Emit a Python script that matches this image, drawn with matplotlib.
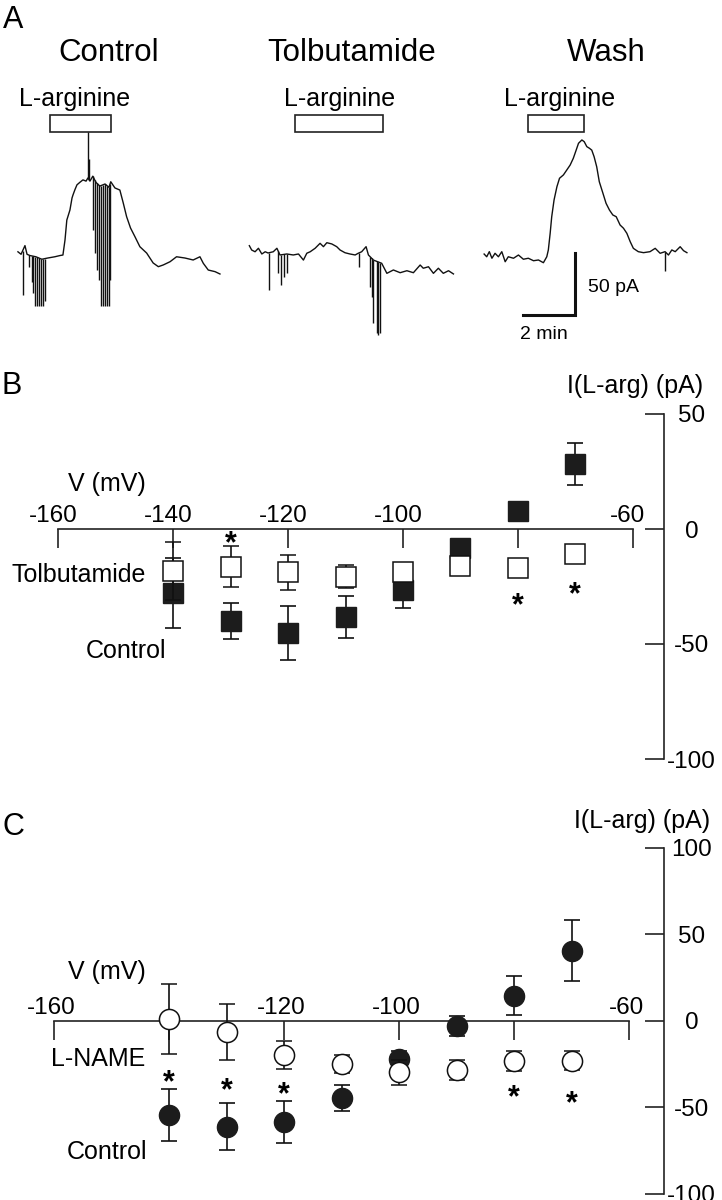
"""Figure: L-arginine current traces (A) and I-V relations with tolbutamide (B) and L-NAME (C)."""

import matplotlib.pyplot as plt
import matplotlib.transforms as mtransforms
import numpy as np
from matplotlib.patches import Rectangle

plt.rcParams["font.family"] = ["Liberation Sans", "DejaVu Sans"]

# ---------------- data ----------------
# Panel A traces: time (min from trace start), current (pA from pre-drug baseline)
CTRL_T = [0.00, 0.12, 0.27, 0.35, 0.46, 0.69, 0.92, 1.15, 1.42, 1.62,
          1.73, 1.81, 1.88, 2.00, 2.08, 2.12, 2.19, 2.27, 2.38, 2.50,
          2.62, 2.69, 2.77, 2.88, 3.00, 3.15, 3.35, 3.50, 3.57, 3.73,
          3.92, 4.05, 4.18, 4.33, 4.50, 4.69, 4.95, 5.20, 5.40, 5.59,
          5.85, 6.10, 6.42, 6.74, 7.00, 7.13, 7.32, 7.58, 7.77]
CTRL_I = [5, 3, 10, 3, 2, 1, -1, 0, 1, 2,
          2.4, 14.5, 30.6, 38.7, 48.4, 51, 55, 59, 61, 63,
          62, 64.5, 62, 66, 61, 58, 59.7, 57, 61.5, 56.5,
          54.8, 44.4, 33.3, 24.2, 17.2, 9.1, 4, -4, -7, -5.6,
          -3, 1, 0, -1.6, 1, -4.3, -9.7, -11, -12.9]
CTRL_SPIKE_T = [0.18, 0.42, 0.53, 0.59, 0.65, 0.73, 0.81, 0.88, 0.96, 1.04,
                2.69, 2.73, 2.88, 2.96, 3.04, 3.12, 3.19, 3.27, 3.35, 3.42, 3.50, 3.54]
CTRL_SPIKE_I = [-30, -7, -19, -28, -39, -39, -39, -39, -39, -35,
                101.6, 80, 22.6, 4, -9.7, -17.7, -38.7, -38.7, -38.7, -38.7, -38.7, -17.7]

TOLB_T = [0.01, 0.10, 0.23, 0.36, 0.49, 0.62, 0.73, 0.93, 1.07, 1.19,
          1.45, 1.70, 1.90, 2.09, 2.22, 2.35, 2.54, 2.73, 2.86, 2.99,
          3.18, 3.37, 3.50, 3.69, 3.88, 4.08, 4.20, 4.33, 4.50, 4.59,
          4.78, 5.10, 5.30, 5.55, 5.81, 6.07, 6.32, 6.58, 6.70, 6.90,
          7.09, 7.28, 7.47, 7.67, 7.86]
TOLB_I = [5.1, 1.6, 0.2, 3.0, -1.6, 0.2, -0.8, 0.2, 3.0, -2.4,
          -1.6, -2.4, -1.6, -6.5, -1.0, 0.2, 3.0, 7.0, 4.3, 7.5,
          6.5, 4.3, 1.6, -0.6, -1.6, -2.4, -1.0, 0.2, 4.3, -2.4,
          -6.5, -9.1, -17.2, -14.5, -16.7, -15.1, -16.7, -10.5, -13.1, -11.9,
          -17.2, -13.1, -17.2, -15.1, -17.7]
TOLB_SPIKE_T = [0.78, 1.12, 1.23, 1.35, 1.46, 4.24, 4.65, 4.72, 4.78, 4.91, 4.97, 5.04]
TOLB_SPIKE_I = [-30.6, -17, -26.6, -20, -17, -11.9, -28, -36, -57.5, -65.6, -67, -65.6]

WASH_T = [0.00, 0.10, 0.20, 0.30, 0.42, 0.55, 0.68, 0.81, 0.93, 1.13,
          1.32, 1.51, 1.70, 1.90, 2.09, 2.28, 2.41, 2.47, 2.54, 2.60,
          2.69, 2.80, 2.90, 3.05, 3.18, 3.31, 3.43, 3.54, 3.63, 3.76,
          3.85, 3.95, 4.05, 4.14, 4.23, 4.33, 4.43, 4.57, 4.69, 4.82,
          4.95, 5.08, 5.23, 5.36, 5.49, 5.62, 5.74, 5.93, 6.13, 6.38,
          6.58, 6.77, 6.96, 7.09, 7.22, 7.35, 7.54, 7.67, 7.80]
WASH_I = [3.2, 1.0, 5.1, -0.2, 3.8, 1.0, 5.1, -3.0, 1.0, -0.2,
          2.4, -1.0, -0.2, -2.2, -1.6, -3.8, 1.0, 6.5, 19.9, 33.3,
          46.8, 57.5, 64.3, 67.0, 71.0, 75.0, 80.4, 87.0, 92.5, 95.2,
          93.8, 89.8, 88.5, 87.0, 81.7, 73.6, 61.5, 52.2, 44.1, 38.7,
          34.7, 33.3, 26.6, 24.0, 19.9, 13.1, 7.8, 5.1, 4.3, 5.1,
          7.8, 3.8, 5.1, 2.4, 6.5, 5.1, 9.1, 5.9, 4.3]
WASH_SPIKE_T = [6.96]
WASH_SPIKE_I = [-10.2]

TRACE_NAMES = ["Control", "Tolbutamide", "Wash"]
ARG_ON = [1.23, 1.77, 1.67]    # L-arginine application (min)
ARG_OFF = [3.58, 5.17, 3.86]

# Panels B and C: I-V relations
V = [-140, -130, -120, -110, -100, -90, -80, -70]
B_CTRL_MEAN = [-27.8, -40.0, -45.2, -38.2, -26.5, -8.2, 7.7, 28.3]
B_CTRL_SEM = [15.2, 8.0, 11.8, 9.0, 7.7, 2.0, 2.0, 9.2]
B_TOLB_MEAN = [-18.3, -16.5, -18.9, -20.8, -18.7, -16.2, -16.8, -10.9]
B_TOLB_SEM = [12.7, 8.9, 7.8, 5.0, 2.0, 2.0, 2.0, 2.0]
B_STAR_V = [-130, -80, -70]
B_STAR_Y = [-2.6, -29.4, -24.6]

C_CTRL_MEAN = [-54.7, -61.4, -58.5, -44.6, -22.4, -3.3, 14.5, 40.5]
C_CTRL_SEM = [15.1, 13.7, 12.1, 7.6, 5.0, 5.8, 11.1, 17.8]
C_LNAME_MEAN = [1.0, -6.6, -19.8, -25.0, -29.9, -28.5, -23.3, -23.1]
C_LNAME_SEM = [20.3, 16.0, 7.9, 5.3, 7.3, 5.6, 5.8, 5.3]
C_STAR_V = [-140, -130, -120, -80, -70]
C_STAR_Y = [-30.4, -35.3, -37.8, -39.1, -43.0]

XTICKS = [-160, -140, -120, -100, -80, -60]
B_XLABELS = ["-160", "-140", "-120", "-100", "", "-60"]
C_XLABELS = ["-160", "", "-120", "-100", "", "-60"]
B_YTICKS = [50, 0, -50, -100]
C_YTICKS = [100, 50, 0, -50, -100]

# ---------------- layout (pixels) ----------------
W, H = 722, 1200
A_PX_PER_MIN = 26.0
A_PX_PER_PA = 1.24
A_BASE_PX = 258
TRACE_X0 = [0.69, 9.58, 18.62]   # min
TRACE_Y0 = [0.0, 4.84, 0.0]      # pA
BOX_Y, BOX_H = 101.6, 13.7

fig = plt.figure(figsize=(W / 100, H / 100), dpi=100)


def fx(x):
    return x / W


def fy(y):
    return 1 - y / H


def px_axes(top, bottom):
    return fig.add_axes([0, fy(bottom), 1, (bottom - top) / H])


def label(x, y, s, size=18, **kw):
    fig.text(fx(x), fy(y), s, fontsize=size, va="baseline", **kw)


# ---------------- panel A ----------------
axA = px_axes(0, 360)
axA.set_xlim(0, W / A_PX_PER_MIN)
axA.set_ylim((A_BASE_PX - 360) / A_PX_PER_PA, A_BASE_PX / A_PX_PER_PA)
axA.axis("off")

traces = [(CTRL_T, CTRL_I, CTRL_SPIKE_T, CTRL_SPIKE_I),
          (TOLB_T, TOLB_I, TOLB_SPIKE_T, TOLB_SPIKE_I),
          (WASH_T, WASH_I, WASH_SPIKE_T, WASH_SPIKE_I)]
for k, (t, i, st, si) in enumerate(traces):
    t = np.asarray(t) + TRACE_X0[k]
    i = np.asarray(i) + TRACE_Y0[k]
    axA.plot(t, i, color="#111111", lw=1.0)
    st = np.asarray(st) + TRACE_X0[k]
    axA.vlines(st, np.interp(st, t, i), np.asarray(si) + TRACE_Y0[k],
               color="#111111", lw=1.0)
    axA.add_patch(Rectangle((TRACE_X0[k] + ARG_ON[k], BOX_Y), ARG_OFF[k] - ARG_ON[k], BOX_H,
                            fc="white", ec="#222222", lw=1.2))

# scale bar: 2 min x 50 pA
sb_x, sb_y = 575 / A_PX_PER_MIN, (A_BASE_PX - 315) / A_PX_PER_PA
axA.plot([sb_x - 2, sb_x, sb_x], [sb_y, sb_y, sb_y + 50], color="#111111", lw=2.2,
         solid_joinstyle="miter")
axA.text(sb_x + 0.5, sb_y + 22, "50 pA", fontsize=14, va="center", ha="left")
axA.text(sb_x - 1.2, sb_y - 15.5, "2 min", fontsize=14, va="center", ha="center")

label(3, 28, "A", size=22)
for name, xc in zip(TRACE_NAMES, [109, 352, 606]):
    label(xc, 61, name, size=22.5, ha="center")
for xc in [75, 340, 560]:
    label(xc, 106, "L-arginine", ha="center")


# ---------------- panels B, C ----------------
def iv_axes(top, bottom, x160, ppm, zero, ppa, spine_x, yticks, xlabels, dx):
    ax = px_axes(top, bottom)
    ax.set_xlim(-160 - x160 / ppm, -160 + (W - x160) / ppm)
    ax.set_ylim((zero - bottom) / ppa, (zero - top) / ppa)
    ax.set_facecolor("none")
    for s in ("left", "bottom"):
        ax.spines[s].set_visible(False)
    ax.spines["top"].set_position(("data", 0))
    ax.spines["top"].set_bounds(-160, -60)
    ax.spines["right"].set_position(("data", -160 + (spine_x - x160) / ppm))
    ax.spines["right"].set_bounds(min(yticks), max(yticks))
    for s in ("top", "right"):
        ax.spines[s].set_linewidth(1.2)
        ax.spines[s].set_color("#222222")
    ax.xaxis.set_ticks_position("top")
    ax.yaxis.set_ticks_position("right")
    ax.tick_params(axis="x", direction="in", length=13.5, width=1.2, pad=1.5,
                   labelsize=17.5, color="#222222")
    ax.tick_params(axis="y", direction="in", length=13.5, width=1.2, pad=20,
                   labelsize=17.5, color="#222222")
    ax.set_xticks(XTICKS, xlabels)
    ax.set_yticks(yticks, [str(v) for v in yticks])
    shift = mtransforms.ScaledTranslation(dx / 100, 0, fig.dpi_scale_trans)
    for lab in ax.get_xticklabels():
        lab.set_transform(lab.get_transform() + shift)
    for lab in ax.get_yticklabels():
        lab.set_horizontalalignment("center")
    return ax


def stars(ax, xs, ys):
    for x, y in zip(xs, ys):
        ax.annotate("*", (x, y), xytext=(0, -7), textcoords="offset points",
                    ha="center", va="center", fontsize=22, fontweight="bold")


err_kw = dict(ls="none", ecolor="#111111", elinewidth=1.2, capsize=5.5, capthick=1.2)

axB = iv_axes(360, 790, 58.5, 5.74, 529, 2.3, 664, B_YTICKS, B_XLABELS, -5)
axB.errorbar(V, B_CTRL_MEAN, yerr=B_CTRL_SEM, fmt="s", ms=14.4, mfc="#1c1c1c",
             mec="#1c1c1c", zorder=3, **err_kw)
axB.errorbar(V, B_TOLB_MEAN, yerr=B_TOLB_SEM, fmt="s", ms=14.4, mfc="white",
             mec="#111111", mew=1.1, zorder=4, **err_kw)
stars(axB, B_STAR_V, B_STAR_Y)

label(2, 394, "B", size=22)
label(567, 393, "I(L-arg) (pA)")
label(68, 491, "V (mV)")
label(12, 582, "Tolbutamide")
label(86, 658, "Control")

axC = iv_axes(800, 1200, 54.3, 5.75, 1020.7, 1.728, 664, C_YTICKS, C_XLABELS, -3)
axC.errorbar(V, C_CTRL_MEAN, yerr=C_CTRL_SEM, fmt="o", ms=14.5, mfc="#1c1c1c",
             mec="#1c1c1c", zorder=3, **err_kw)
axC.errorbar(V, C_LNAME_MEAN, yerr=C_LNAME_SEM, fmt="o", ms=14.5, mfc="white",
             mec="#111111", mew=1.1, zorder=4, **err_kw)
stars(axC, C_STAR_V, C_STAR_Y)

label(2, 835, "C", size=22)
label(574, 828, "I(L-arg) (pA)")
label(68, 979, "V (mV)")
label(51, 1066, "L-NAME")
label(67, 1159, "Control")

fig.savefig("out.png", dpi=100)
